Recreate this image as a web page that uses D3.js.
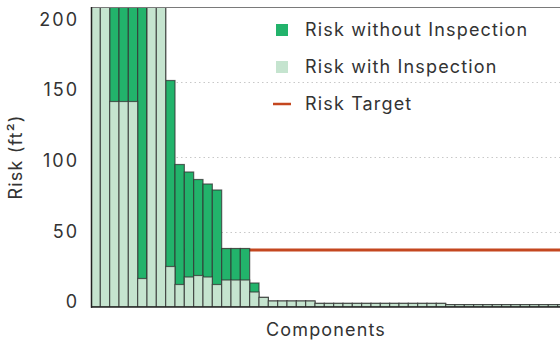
<!DOCTYPE html>
<html><head><meta charset="utf-8">
<script src="https://cdn.jsdelivr.net/npm/d3@7"></script>
<style>
html,body{margin:0;padding:0;background:#fff;}
svg{display:block;font-family:Inter,"Noto Sans",sans-serif;}
svg text{letter-spacing:1.15px;font-weight:400;}
</style></head>
<body><svg id="c" width="560" height="342"></svg>
<script>
// Data (values > 200 are clipped by the chart's top edge)
const components = d3.range(1, 52).map(i => "C" + i);
const riskWithout = [250, 250, 250, 250, 250, 250, 250, 250, 151, 95, 90, 85, 82, 78, 39, 39, 39, 16, 6.4,
  4, 4, 4, 4, 4,
  2.4, 2.4, 2.4, 2.4, 2.4, 2.4, 2.4, 2.4, 2.4, 2.4, 2.4, 2.4, 2.4, 2.4,
  1.6, 1.6, 1.6, 1.6, 1.6, 1.6, 1.6, 1.6, 1.6, 1.6, 1.6, 1.6, 1.6];
const riskWith = [250, 250, 137, 137, 137, 19, 250, 250, 27, 15, 20, 21, 20, 15, 18, 18, 18, 10, 6.4,
  4, 4, 4, 4, 4,
  2.4, 2.4, 2.4, 2.4, 2.4, 2.4, 2.4, 2.4, 2.4, 2.4, 2.4, 2.4, 2.4, 2.4,
  1.6, 1.6, 1.6, 1.6, 1.6, 1.6, 1.6, 1.6, 1.6, 1.6, 1.6, 1.6, 1.6];
const riskTarget = 38;
const yTicks = [0, 50, 100, 150, 200];
const gridValues = [50, 100, 150];
const legendItems = ["Risk without Inspection", "Risk with Inspection", "Risk Target"];

(function () {
const svg = d3.select("#c");
const pl = 91, pt = 7, pb = 307;
const bw = 9.333;
const x = d3.scaleBand().domain(components).range([pl, pl + components.length * bw]).padding(0);
const y = d3.scaleLinear().domain([0, 200]).range([pb, pt]);
const yLab = d3.scaleLinear().domain([0, 200]).range([302, 19.5]);

svg.append("defs").append("clipPath").attr("id", "plot")
  .append("rect").attr("x", pl).attr("y", pt).attr("width", 560 - pl).attr("height", pb - pt);

// gridlines
svg.append("g").selectAll("line").data(gridValues).join("line")
  .attr("x1", pl).attr("x2", 560).attr("y1", d => y(d) + 0.5).attr("y2", d => y(d) + 0.5)
  .attr("stroke", "#c8c8c8").attr("stroke-width", 1).attr("stroke-dasharray", "1.5,3");

// target line
svg.append("line").attr("x1", pl).attr("x2", 560).attr("y1", y(riskTarget)).attr("y2", y(riskTarget))
  .attr("stroke", "#c4471f").attr("stroke-width", 3);

const g = svg.append("g").attr("clip-path", "url(#plot)");
g.selectAll("rect.dark").data(riskWithout).join("rect").attr("class", "dark")
  .attr("x", (d, i) => x(components[i])).attr("width", x.bandwidth())
  .attr("y", d => y(d)).attr("height", d => y(0) - y(d))
  .attr("fill", "#22b36b").attr("stroke", "#333").attr("stroke-opacity", 0.75).attr("stroke-width", 1.2);
g.selectAll("rect.light").data(riskWith).join("rect").attr("class", "light")
  .attr("x", (d, i) => x(components[i])).attr("width", x.bandwidth())
  .attr("y", d => y(d)).attr("height", d => y(0) - y(d))
  .attr("fill", "#c5e4cf").attr("stroke", "#333").attr("stroke-opacity", 0.75).attr("stroke-width", 1.2);

// frame
svg.append("line").attr("x1", pl).attr("x2", 560).attr("y1", pt + 0.5).attr("y2", pt + 0.5)
  .attr("stroke", "#7a7a7a").attr("stroke-width", 1.2);
svg.append("line").attr("x1", pl).attr("x2", 560).attr("y1", pb).attr("y2", pb)
  .attr("stroke", "#222").attr("stroke-width", 1.5);
svg.append("line").attr("x1", pl + 0.5).attr("x2", pl + 0.5).attr("y1", pt).attr("y2", pb + 0.75)
  .attr("stroke", "#222").attr("stroke-width", 1.5);

// y axis labels
const ya = svg.append("g").attr("transform", "translate(79,0)")
  .call(d3.axisLeft(yLab).tickValues(yTicks).tickSize(0).tickPadding(0));
ya.select(".domain").remove();
ya.selectAll("text").attr("font-size", 18).attr("fill", "#333").attr("font-family", "Inter, sans-serif")
  .style("letter-spacing", "2px");

// axis titles
svg.append("text").attr("x", 326).attr("y", 336).attr("text-anchor", "middle")
  .attr("font-size", 18).attr("fill", "#333").text("Components");
svg.append("text").attr("transform", "translate(22,157) rotate(-90)").attr("text-anchor", "middle")
  .attr("font-size", 18).attr("fill", "#333").text("Risk (ft²)");

// legend
const lg = svg.append("g");
const ly = [30, 67, 104];
lg.append("rect").attr("x", 276).attr("y", ly[0] - 6).attr("width", 12).attr("height", 12).attr("fill", "#22b36b");
lg.append("rect").attr("x", 276).attr("y", ly[1] - 6).attr("width", 12).attr("height", 12).attr("fill", "#c5e4cf");
lg.append("line").attr("x1", 273).attr("x2", 291).attr("y1", ly[2]).attr("y2", ly[2])
  .attr("stroke", "#c4471f").attr("stroke-width", 2.5);
lg.selectAll("text").data(legendItems).join("text")
  .attr("x", 305).attr("y", (d, i) => ly[i]).attr("dy", "0.35em")
  .attr("font-size", 18).attr("fill", "#333").text(d => d);
})();
</script></body></html>
